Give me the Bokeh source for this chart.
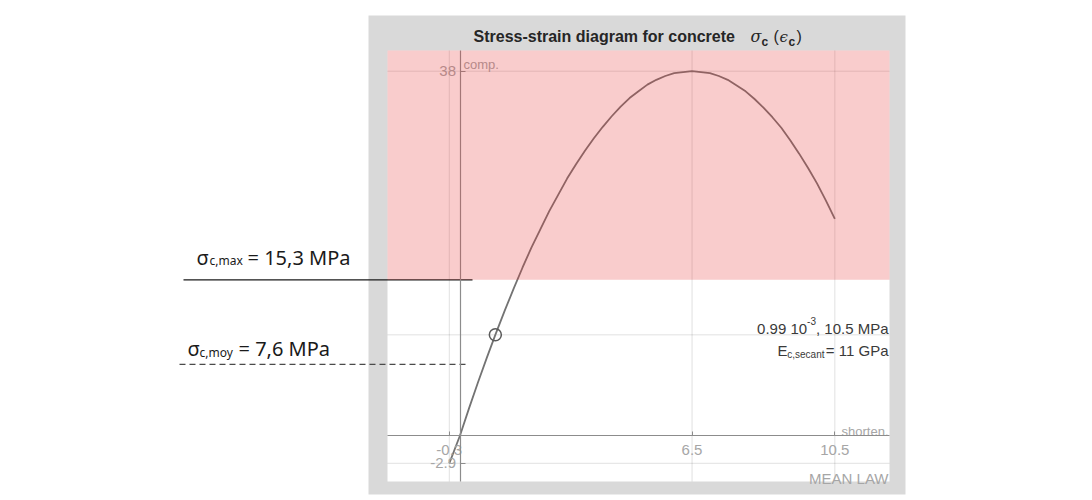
from bokeh.plotting import figure
from bokeh.models import Range1d, LinearAxis, FixedTicker
from bokeh.core.properties import value
from bokeh.embed import file_html
from bokeh.resources import INLINE

# ---------------- data ----------------
strain = [-0.3, 0.0, 0.25, 0.5, 0.75, 1.0, 1.25, 1.5, 1.75, 2.0, 2.25, 2.5, 2.75,
          3.0, 3.25, 3.5, 3.75, 4.0, 4.25, 4.5, 4.75, 5.0, 5.25, 5.5, 5.75,
          6.0, 6.25, 6.5, 6.75, 7.0, 7.25, 7.5, 7.75, 8.0, 8.25, 8.5, 8.75,
          9.0, 9.25, 9.5, 9.75, 10.0, 10.25, 10.5]
stress = [-2.9, 0.0, 2.8, 5.5, 8.1, 10.6, 13.0, 15.3, 17.5, 19.6, 21.5, 23.4, 25.1,
          26.8, 28.3, 29.7, 31.0, 32.2, 33.3, 34.3, 35.2, 35.9, 36.6, 37.1, 37.5,
          37.8, 37.9, 38.0, 37.9, 37.8, 37.5, 37.1, 36.5, 35.9, 35.1, 34.2, 33.2,
          32.1, 30.8, 29.4, 27.9, 26.3, 24.5, 22.6]
point_strain = [0.99]
point_stress = [10.5]
x_ticks = [-0.3, 6.5, 10.5]
x_tick_labels = ["-0.3", "6.5", "10.5"]
y_ticks = [-2.9, 38]
y_tick_labels = ["-2.9", "38"]
grid_y_extra = [10.5]
comp_zone_from = 16.24      # MPa, lower limit of the shaded compression zone
sigma_max_level = 16.24     # level of the hand-drawn sigma_c,max line
sigma_moy_level = 7.41      # level of the hand-drawn sigma_c,moy line

# ---------------- layout (page pixels) ----------------
W, H, M = 1088, 496, 0
X0_PX, X_PER = 459.5, 35.7     # strain 0 position, px per unit
Y0_PX, Y_PER = 435.0, 9.587    # stress 0 position, px per MPa
PANEL = (368, 905, 15, 494)
AREA = (387, 889, 50, 481)

def xd(px):
    return (px - X0_PX) / X_PER

def yd(py):
    return (Y0_PX - py) / Y_PER

p = figure(width=W, height=H, output_backend="svg", toolbar_location=None,
           x_range=Range1d(xd(M), xd(M + W)), y_range=Range1d(yd(M + H), yd(M)),
           x_axis_location=None, y_axis_location=None, min_border=0,
           outline_line_color=None, background_fill_color="white",
           border_fill_color="white")
p.grid.visible = False
p.extra_x_ranges = {"px": Range1d(M, M + W)}
p.extra_y_ranges = {"px": Range1d(M + H, M)}
PX = dict(x_range_name="px", y_range_name="px")

# gray figure panel and white axes area
p.quad(left=PANEL[0], right=PANEL[1], top=PANEL[2], bottom=PANEL[3],
       fill_color="#d9d9d9", line_color=None, **PX)
p.quad(left=AREA[0], right=AREA[1], top=AREA[2], bottom=AREA[3],
       fill_color="white", line_color=None, **PX)

xl, xr = xd(AREA[0]), xd(AREA[1])
yb, yt = yd(AREA[3]), yd(AREA[2])

# grid lines
gy = y_ticks + grid_y_extra
p.segment(x0=x_ticks, x1=x_ticks, y0=[yb] * len(x_ticks), y1=[yt] * len(x_ticks),
          line_color="black", line_alpha=0.12, line_width=1)
p.segment(x0=[xl] * len(gy), x1=[xr] * len(gy), y0=gy, y1=gy,
          line_color="black", line_alpha=0.12, line_width=1)

# curve and point
p.line(strain, stress, line_color="#737373", line_width=1.8)
p.scatter(point_strain, point_stress, marker="circle", size=12, fill_color=None,
          line_color="#5a5a5a", line_width=1.5)

# axes through the origin
common = dict(axis_line_color="#8c8c8c", axis_line_width=1.2,
              major_tick_line_color="#8c8c8c", major_tick_out=0,
              minor_tick_in=0, minor_tick_out=0,
              major_label_text_color="#a6a6a6",
              major_label_text_font="Liberation Sans",
              major_label_text_font_size="15px")
yax = LinearAxis(fixed_location=0, bounds=(yb, yt), ticker=FixedTicker(ticks=y_ticks),
                 major_label_overrides=dict(zip(y_ticks, y_tick_labels)),
                 major_tick_in=5, major_label_standoff=4, **common)
p.add_layout(yax, "left")
xax = LinearAxis(fixed_location=0, bounds=(xl, xr), ticker=FixedTicker(ticks=x_ticks),
                 major_label_overrides=dict(zip(x_ticks, x_tick_labels)),
                 major_tick_in=4, major_label_standoff=9, **common)
p.add_layout(xax, "below")

# hand-drawn level lines
p.segment(x0=[183], x1=[472], y0=[sigma_max_level], y1=[sigma_max_level],
          x_range_name="px", line_color="#1a1a1a", line_width=1.3)
p.segment(x0=[179], x1=[467], y0=[sigma_moy_level], y1=[sigma_moy_level],
          x_range_name="px", line_color="#4a4a4a", line_width=1.2, line_dash="6 4")

# shaded compression zone (drawn on top, translucent)
zone = p.quad(left=xl, right=xr, bottom=comp_zone_from, top=yt,
              fill_color="#e73232", fill_alpha=0.25, line_color=None)
zone.level = "overlay"


def label(x, y, s, size, color="#1a1a1a", font="Liberation Sans", align="left",
          style="normal"):
    p.text(x=[x], y=[y], text=[s], text_font=value(font), text_font_size=f"{size}px",
           text_color=color, text_align=align, text_baseline="alphabetic",
           text_font_style=style, **PX)


# title
label(473, 36, "Stress-strain diagram for concrete", 16, "#262626", style="bold")
label(750, 36, "σ", 16, "#262626", font="DejaVu Serif", style="italic")
label(761, 41.5, "c", 12, "#262626", style="bold")
label(773, 36, "(", 16, "#262626")
label(779, 36, "ϵ", 15, "#262626", font="DejaVu Serif", style="italic")
label(788, 41.5, "c", 12, "#262626", style="bold")
label(796, 36, ")", 16, "#262626")

# axis side notes
label(463, 64, "comp.", 13, "#a6a6a6")
label(888, 431, "shorten.", 13, "#a6a6a6", align="right")
label(888, 478, "MEAN LAW", 15, "#a6a6a6", align="right")

# point annotation
label(888, 328, ", 10.5 MPa", 15, "#3a3a3a", align="right")
label(815.5, 320, "-3", 10, "#3a3a3a", align="right")
label(806.6, 328, "0.99 10", 15, "#3a3a3a", align="right")
label(888, 350, "= 11 GPa", 15, "#3a3a3a", align="right")
label(824, 354, "c,secant", 10, "#3a3a3a", align="right")
label(787, 350, "E", 15, "#3a3a3a", align="right")

# left annotations
label(196, 256.5, "σ", 20, "#1a1a1a", font="Noto Sans")
label(209, 259.5, "c,max", 12, "#1a1a1a", font="Noto Sans")
label(247, 256.5, "= 15,3 MPa", 20, "#1a1a1a", font="Noto Sans")
label(187, 348, "σ", 20, "#1a1a1a", font="Noto Sans")
label(199, 351.5, "c,moy", 12, "#1a1a1a", font="Noto Sans")
label(238, 348, "= 7,6 MPa", 20, "#1a1a1a", font="Noto Sans")

open("out.html", "w").write(file_html(p, INLINE))
